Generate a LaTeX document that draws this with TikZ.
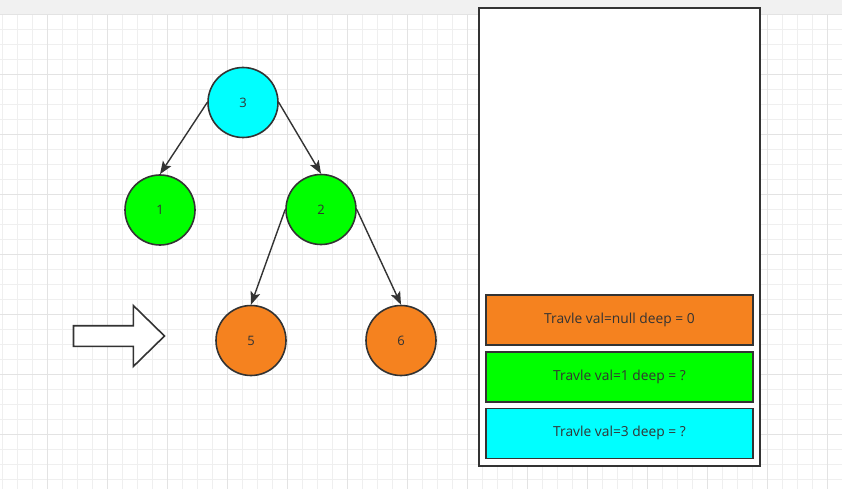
\documentclass[tikz,border=0pt]{standalone}
\usepackage{fontspec}
\setmainfont{Open Sans}
\usetikzlibrary{arrows.meta}

\definecolor{inkgray}{HTML}{333333}
\definecolor{barbg}{HTML}{F1F1F1}
\definecolor{minorgrid}{HTML}{EFEFEF}
\definecolor{majorgrid}{HTML}{E3E3E3}
\definecolor{nodecyan}{HTML}{00FFFF}
\definecolor{nodegreen}{HTML}{00FF00}
\definecolor{nodeorange}{HTML}{F5821F}

\tikzset{
  treenode/.style={draw=inkgray, circle, line width=1.6pt, minimum size=70pt,
    inner sep=0pt, text=inkgray, font=\fontsize{13}{15}\selectfont},
  framebox/.style={draw=inkgray, line width=1.6pt, fill=white, rectangle,
    minimum width=281pt, minimum height=458pt, inner sep=0pt},
  stackitem/.style={draw=inkgray, line width=1.6pt, rectangle, minimum width=267pt,
    minimum height=50pt, inner sep=0pt, text=inkgray, font=\fontsize{13.8}{16}\selectfont},
  edge/.style={draw=inkgray, line width=1.4pt, -{Stealth[length=13pt, width=10pt, inset=3pt]}}
}

\begin{document}
\begin{tikzpicture}[x=1pt, y=-1pt]

    \useasboundingbox (0,0) rectangle (842,489);

    % Background grid
    \fill[white] (0,0) rectangle (842,489);
    \fill[barbg] (0,0) rectangle (842,14.3);
    \foreach \x in {2.7,17.7,...,842} \draw[minorgrid, line width=0.9pt] (\x,14.3) -- (\x,489);
    \foreach \y in {29.3,44.3,...,489} \draw[minorgrid, line width=0.9pt] (0,\y) -- (842,\y);
    \foreach \x in {47.7,107.7,...,842} \draw[majorgrid, line width=0.9pt] (\x,14.3) -- (\x,489);
    \foreach \y in {14.3,74.3,...,489} \draw[majorgrid, line width=0.9pt] (0,\y) -- (842,\y);

    % Tree nodes
    \node[treenode, fill=nodecyan] (n3) at (243,102.5) {3};
    \node[treenode, fill=nodegreen] (n1) at (160,210) {1};
    \node[treenode, fill=nodegreen] (n2) at (321,209.5) {2};
    \node[treenode, fill=nodeorange] (n5) at (251,340.5) {5};
    \node[treenode, fill=nodeorange] (n6) at (401,340.5) {6};

    % Edges
    \draw[edge] (n3.west) -- (n1.north);
    \draw[edge] (n3.east) -- (n2.north);
    \draw[edge] (n2.west) -- (n5.north);
    \draw[edge] (n2.east) -- (n6.north);

    % Pointer arrow
    \draw[inkgray, line width=1.6pt, fill=white]
      (73.5,325.7) -- (133.3,325.7) -- (133.3,305.5) -- (164.5,336)
      -- (133.3,366.5) -- (133.3,346.3) -- (73.5,346.3) -- cycle;

    % Stack
    \node[framebox] (stack) at (619.5,237) {};
    \node[stackitem, fill=nodeorange] (s1) at (619.5,320) {Travle val=null deep = 0};
    \node[stackitem, fill=nodegreen] (s2) at (619.5,376.7) {Travle val=1 deep = ?};
    \node[stackitem, fill=nodecyan] (s3) at (619.5,433.3) {Travle val=3 deep = ?};

\end{tikzpicture}
\end{document}
